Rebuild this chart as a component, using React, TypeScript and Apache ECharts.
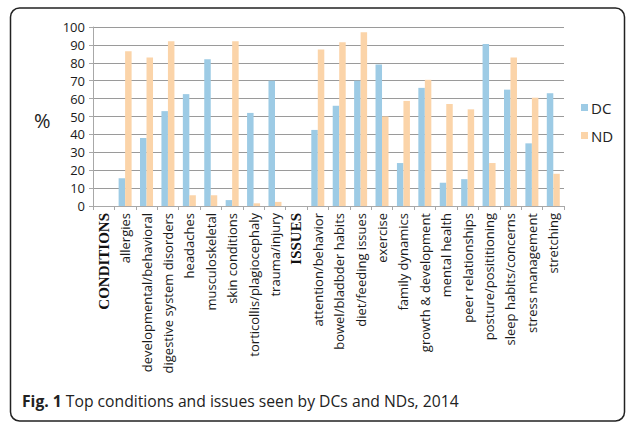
import React, { useEffect, useRef } from "react";
import * as echarts from "echarts";

const categories = [
  "CONDITIONS",
  "allergies",
  "developmental/behavioral",
  "digestive system disorders",
  "headaches",
  "musculoskeletal",
  "skin conditions",
  "torticollis/plagiocephaly",
  "trauma/injury",
  "ISSUES",
  "attention/behavior",
  "bowel/bladbder habits",
  "diet/feeding issues",
  "exercise",
  "family dynamics",
  "growth & development",
  "mental health",
  "peer relationships",
  "posture/posititioning",
  "sleep habits/concerns",
  "stress management",
  "stretching",
];

const headers = ["CONDITIONS", "ISSUES"];

const dcValues = [
  null, 15.5, 38, 53, 62.5, 82, 3.3, 52, 70, null,
  42.5, 56, 70, 79, 24, 66, 13, 15, 90.5, 65, 35, 63,
];

const ndValues = [
  null, 86.5, 83, 92, 6, 6, 92, 1.5, 2.3, null,
  87.5, 91.5, 97, 50, 58.7, 70.5, 57, 54, 24, 83, 60.5, 18,
];

const yTicks = { min: 0, max: 100, interval: 10 };

export default function App() {
  const ref = useRef<HTMLDivElement>(null);
  useEffect(() => {
    if (!ref.current) return;
    const chart = echarts.init(ref.current, undefined, { renderer: "svg" });
    const font = "Open Sans";
    chart.setOption({
      animation: false,
      backgroundColor: "#ffffff",
      grid: { left: 93, right: 63, top: 27, bottom: 217 },
      legend: {
        orient: "vertical",
        left: 576,
        top: 95,
        itemWidth: 7,
        itemHeight: 7,
        itemGap: 13,
        icon: "rect",
        textStyle: { fontFamily: font, fontSize: 15, color: "#222", padding: [4, 0, 0, -2] },
        data: ["DC", "ND"],
      },
      xAxis: {
        type: "category",
        data: categories,
        axisLine: { lineStyle: { color: "#a8a8a8", width: 1 } },
        axisTick: { show: true, length: 4, lineStyle: { color: "#a8a8a8" } },
        axisLabel: {
          interval: 0,
          rotate: 90,
          margin: 7,
          fontFamily: font,
          fontSize: 13,
          color: "#1a1a1a",
          formatter: (v: string) => (headers.includes(v) ? `{h|${v}}` : v),
          rich: {
            h: {
              fontFamily: "Liberation Serif",
              fontWeight: "bold",
              fontSize: 15,
              color: "#111",
            },
          },
        },
      },
      yAxis: {
        type: "value",
        min: yTicks.min,
        max: yTicks.max,
        interval: yTicks.interval,
        axisLine: { show: true, lineStyle: { color: "#a8a8a8" } },
        axisTick: { show: true, length: 4, lineStyle: { color: "#a8a8a8" } },
        axisLabel: { fontFamily: font, fontSize: 13, color: "#1a1a1a", margin: 8 },
        splitLine: { lineStyle: { color: "#9a9a9a", width: 1 } },
      },
      series: [
        {
          name: "DC",
          type: "bar",
          data: dcValues,
          barWidth: 6.5,
          barGap: "0%",
          itemStyle: { color: "#9dcbe5" },
        },
        {
          name: "ND",
          type: "bar",
          data: ndValues,
          barWidth: 6.5,
          barGap: "0%",
          itemStyle: { color: "#fbd4a9" },
        },
      ],
      graphic: [
        {
          type: "rect",
          shape: { x: 10.5, y: 8, width: 614, height: 413, r: 9 },
          style: { fill: "none", stroke: "#222", lineWidth: 1.5 },
          z: 10,
        },
        {
          type: "text",
          left: 34,
          top: 110,
          style: { text: "%", fontFamily: font, fontSize: 20, fill: "#222" },
        },
        {
          type: "text",
          left: 22,
          top: 393,
          style: {
            text: "{b|Fig. 1} Top conditions and issues seen by DCs and NDs, 2014",
            fontFamily: font,
            fontSize: 15.7,
            fill: "#222",
            rich: {
              b: { fontFamily: font, fontWeight: "bold", fontSize: 15.7, fill: "#222" },
            },
          },
        },
      ],
    });
    return () => chart.dispose();
  }, []);
  return (
    <div
      ref={ref}
      style={{ position: "fixed", left: 0, top: 0, width: 627, height: 423, background: "#fff" }}
    />
  );
}
